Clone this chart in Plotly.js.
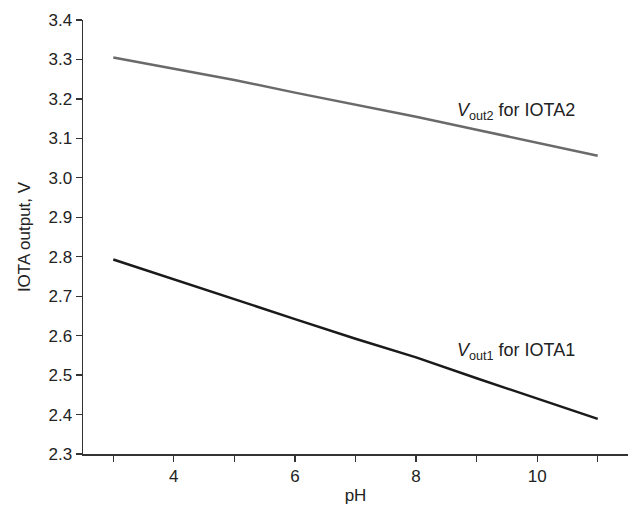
<!DOCTYPE html>
<html><head><meta charset="utf-8">
<script src="https://cdn.plot.ly/plotly-3.0.1.min.js"></script>
<style>html,body{margin:0;padding:0;background:#fff}#chart{width:629px;height:505px}</style>
</head><body><div id="chart"></div>
<script>
const pH = [3, 4, 5, 6, 7, 8, 9, 10, 11];
const vout1 = [2.793, 2.742, 2.692, 2.642, 2.592, 2.545, 2.492, 2.441, 2.389];
const vout2 = [3.305, 3.277, 3.248, 3.216, 3.186, 3.155, 3.122, 3.089, 3.056];
const xTickVals = [4, 6, 8, 10];
const xTickText = ['4', '6', '8', '10'];
const yTickVals = [2.3, 2.4, 2.5, 2.6, 2.7, 2.8, 2.9, 3.0, 3.1, 3.2, 3.3, 3.4];
const yTickText = ['2.3','2.4','2.5','2.6','2.7','2.8','2.9','3.0','3.1','3.2','3.3','3.4'];
const label1 = '<i>V</i><sub>out1</sub> for IOTA1';
const label2 = '<i>V</i><sub>out2</sub> for IOTA2';

const font = {family: 'Liberation Sans, Arial, sans-serif', size: 17, color: '#222'};
const annFont = {family: 'Liberation Sans, Arial, sans-serif', size: 18, color: '#222'};
const data = [
  {x: pH, y: vout1, mode: 'lines', line: {color: '#1a1a1a', width: 2.5}, showlegend: false, hoverinfo: 'skip'},
  {x: pH, y: vout2, mode: 'lines', line: {color: '#6a6a6a', width: 2.5}, showlegend: false, hoverinfo: 'skip'}
];
const layout = {
  width: 629, height: 505,
  margin: {l: 83, r: 1, t: 20, b: 51},
  paper_bgcolor: '#fff', plot_bgcolor: '#fff',
  font: font,
  xaxis: {
    range: [2.5, 11.5], tickmode: 'array', tickvals: xTickVals, ticktext: xTickText,
    ticks: 'outside', ticklen: 6, tickwidth: 1.2, tickcolor: '#333',
    minor: {dtick: 1, tick0: 3, ticks: 'outside', ticklen: 6, tickwidth: 1.2, tickcolor: '#333', showgrid: false},
    showline: true, linecolor: '#333', linewidth: 1.5, showgrid: false, zeroline: false,
    title: {text: 'pH', font: font, standoff: 4}
  },
  yaxis: {
    range: [2.3, 3.4], tickmode: 'array', tickvals: yTickVals, ticktext: yTickText,
    ticks: 'outside', ticklen: 6, tickwidth: 1.2, tickcolor: '#333',
    showline: true, linecolor: '#333', linewidth: 1.5, showgrid: false, zeroline: false,
    title: {text: 'IOTA output, V', font: font, standoff: 13}
  },
  annotations: [
    {x: 9.65, y: 2.56, text: label1, showarrow: false, font: annFont, xanchor: 'center', yanchor: 'middle'},
    {x: 9.65, y: 3.167, text: label2, showarrow: false, font: annFont, xanchor: 'center', yanchor: 'middle'}
  ]
};
Plotly.newPlot('chart', data, layout, {staticPlot: true, displayModeBar: false});
</script></body></html>
